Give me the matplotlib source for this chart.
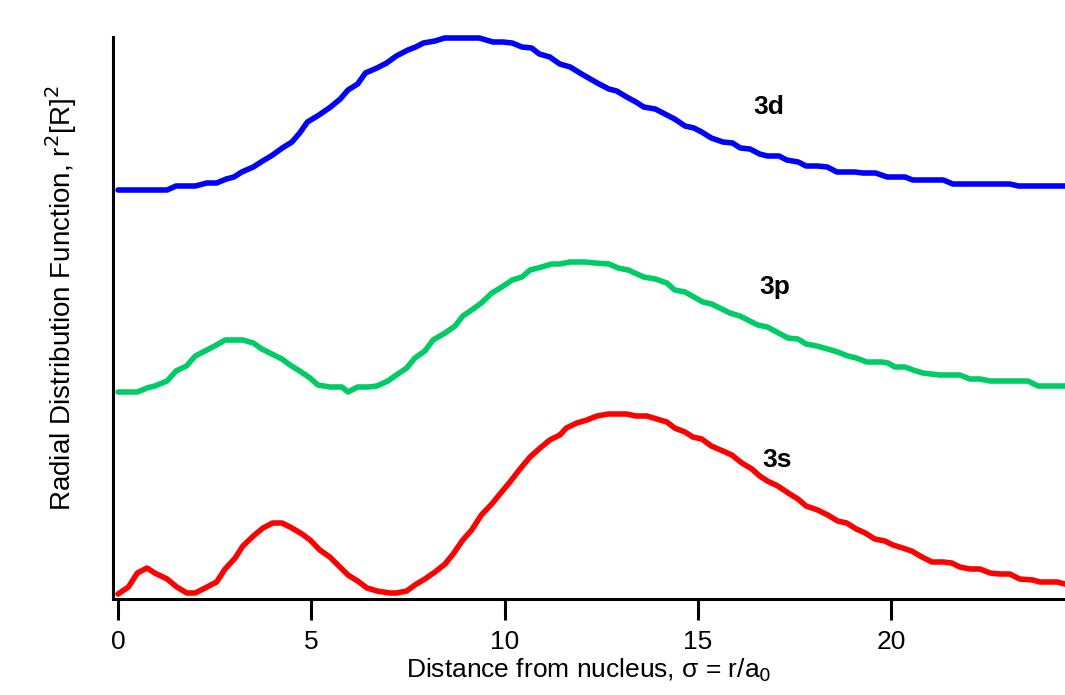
import matplotlib
matplotlib.use("Agg")
import matplotlib.pyplot as plt

# ---- data (sigma = r/a0, relative radial distribution amplitude) ----
x_3d = [0, 1.27, 1.5, 2.0, 2.3, 2.55, 2.8, 3.0, 3.2, 3.5,
        3.7, 4.0, 4.25, 4.5, 4.7, 4.9, 5.2, 5.5, 5.75, 5.95,
        6.2, 6.4, 6.7, 6.95, 7.2, 7.5, 7.7, 7.9, 8.2, 8.45,
        9.35, 9.7, 9.96, 10.2, 10.45, 10.7, 10.9, 11.17, 11.43, 11.7,
        11.95, 12.4, 12.7, 12.9, 13.16, 13.4, 13.6, 13.9, 14.2, 14.4,
        14.67, 14.9, 15.1, 15.35, 15.65, 15.9, 16.1, 16.35, 16.6, 16.8,
        17.1, 17.3, 17.6, 17.8, 18.1, 18.35, 18.6, 19.06, 19.27, 19.6,
        19.9, 20.36, 20.56, 21.35, 21.6, 23.07, 23.3, 24.6]
y_3d = [409, 409, 413, 413, 416, 416, 420, 422, 427, 432,
        437, 444, 451, 457, 466, 477, 484, 492, 500, 509,
        515, 526, 531, 536, 543, 549, 552, 556, 558, 561,
        561, 557, 557, 556, 552, 551, 545, 542, 535, 532,
        526, 516, 510, 508, 502, 497, 492, 490, 484, 480,
        473, 471, 467, 461, 457, 456, 451, 450, 445, 443,
        443, 439, 437, 433, 433, 432, 427, 427, 426, 426,
        422, 422, 419, 419, 415, 415, 413, 413]

x_3p = [0, 0.5, 0.75, 0.95, 1.27, 1.5, 1.77, 2.0, 2.3, 2.5,
        2.77, 3.23, 3.5, 3.72, 3.98, 4.24, 4.45, 4.7, 4.97, 5.17,
        5.48, 5.79, 5.95, 6.2, 6.47, 6.7, 6.98, 7.2, 7.47, 7.68,
        7.94, 8.15, 8.46, 8.72, 8.92, 9.15, 9.4, 9.67, 9.93, 10.2,
        10.45, 10.66, 10.96, 11.22, 11.43, 11.69, 12.08, 12.34, 12.7, 12.94,
        13.2, 13.6, 13.9, 14.2, 14.4, 14.67, 15.13, 15.36, 15.83, 16.09,
        16.55, 16.8, 17.33, 17.59, 17.8, 18.08, 18.36, 18.62, 18.88, 19.1,
        19.37, 19.76, 19.92, 20.1, 20.36, 20.57, 20.82, 21.26, 21.78, 22.04,
        22.3, 22.56, 23.54, 23.8, 24.6]
y_3p = [207, 207, 211, 213, 218, 228, 233, 243, 249, 253,
        259, 259, 256, 250, 245, 240, 234, 228, 221, 214,
        212, 212, 207, 212, 212, 213, 218, 224, 231, 241,
        248, 259, 266, 273, 283, 289, 296, 306, 312, 319,
        322, 329, 332, 335, 335, 337, 337, 336, 335, 331,
        329, 322, 320, 316, 309, 307, 297, 295, 286, 283,
        274, 272, 261, 260, 255, 253, 250, 247, 243, 241,
        237, 237, 236, 232, 232, 229, 226, 224, 224, 220,
        220, 218, 218, 213, 213]

x_3s = [0, 0.27, 0.5, 0.75, 0.95, 1.27, 1.52, 1.78, 2.0, 2.25,
        2.55, 2.77, 3.03, 3.23, 3.5, 3.75, 4.0, 4.24, 4.5, 4.76,
        4.97, 5.22, 5.48, 5.74, 5.95, 6.2, 6.44, 6.7, 7.03, 7.2,
        7.47, 7.68, 7.94, 8.2, 8.46, 8.67, 8.92, 9.15, 9.4, 9.67,
        9.88, 10.14, 10.4, 10.66, 10.92, 11.17, 11.43, 11.6, 11.87, 12.13,
        12.39, 12.68, 13.16, 13.4, 13.68, 13.94, 14.2, 14.4, 14.67, 14.87,
        15.1, 15.35, 15.65, 15.88, 16.14, 16.4, 16.6, 16.8, 17.07, 17.38,
        17.59, 17.8, 18.1, 18.36, 18.62, 18.85, 19.1, 19.33, 19.58, 19.84,
        20.05, 20.3, 20.53, 20.8, 21.06, 21.35, 21.57, 21.78, 22.04, 22.3,
        22.56, 22.82, 23.07, 23.33, 23.67, 23.85, 24.3, 24.6]
y_3s = [5, 12, 26, 31, 26, 20, 12, 6, 6, 11,
        17, 30, 41, 53, 63, 71, 76, 76, 71, 65,
        59, 49, 42, 32, 24, 18, 11, 8, 6, 6,
        8, 14, 20, 27, 35, 45, 59, 69, 84, 95,
        105, 117, 130, 142, 151, 159, 164, 171, 176, 179,
        183, 185, 185, 183, 183, 180, 177, 171, 167, 162,
        160, 153, 148, 144, 136, 130, 123, 118, 113, 105,
        100, 93, 89, 84, 78, 76, 70, 66, 60, 58,
        54, 51, 48, 42, 37, 37, 36, 32, 30, 30,
        26, 25, 25, 20, 19, 17, 17, 14]

labels = ["3d", "3p", "3s"]
label_pos_x = [16.84, 17.0, 17.05]
label_pos_y = [492, 312, 139]
x_ticks = [0, 5, 10, 15, 20]

FONT = ["Liberation Sans", "DejaVu Sans"]

# ---- figure ----
fig = plt.figure(figsize=(10.65, 6.95), dpi=100)
ax = fig.add_axes([113 / 1065, 96 / 695, 952 / 1065, 562 / 695])

lw = 4.0
ax.plot(x_3d, y_3d, color="#0000ff", lw=lw, solid_joinstyle="round", solid_capstyle="round", clip_on=False)
ax.plot(x_3p, y_3p, color="#00cc66", lw=lw, solid_joinstyle="round", solid_capstyle="round")
ax.plot(x_3s, y_3s, color="#ff0000", lw=lw, solid_joinstyle="round", solid_capstyle="round")

for lab, lx, ly in zip(labels, label_pos_x, label_pos_y):
    ax.text(lx, ly, lab, fontsize=19, fontweight="bold", family=FONT,
            ha="center", va="center")

ax.set_xlim(-0.13, 24.5)
ax.set_ylim(0, 562)

for s in ["top", "right"]:
    ax.spines[s].set_visible(False)
for s in ["left", "bottom"]:
    ax.spines[s].set_linewidth(2.2)

ax.set_yticks([])
ax.set_xticks(x_ticks)
ax.set_xticklabels([str(t) for t in x_ticks], family=FONT, fontsize=19)
ax.tick_params(axis="x", direction="out", length=15, width=2.2, pad=7)

ax.set_xlabel(r"Distance from nucleus, σ = r/a$_0$", family=FONT, fontsize=19, labelpad=2)
ax.set_ylabel(r"Radial Distribution Function, r$^2$[R]$^2$", family=FONT, fontsize=20)
ax.yaxis.set_label_coords(-0.036, 0.535)

fig.savefig("out.png", dpi=100)
